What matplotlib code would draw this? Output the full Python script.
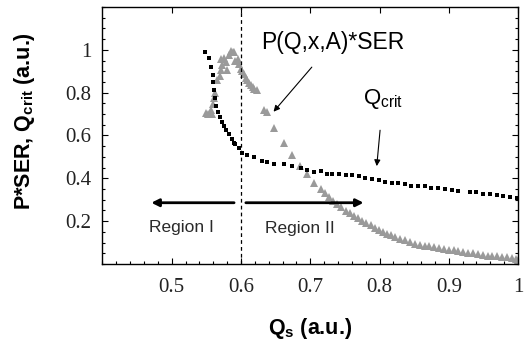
import matplotlib
matplotlib.use("Agg")
import matplotlib.pyplot as plt
from matplotlib.ticker import MultipleLocator, FixedLocator, FuncFormatter

# Qcrit (black squares)
qcrit_x = [0.548, 0.554, 0.556, 0.559, 0.560, 0.561, 0.563, 0.564, 0.567, 0.569,
           0.573, 0.576, 0.579, 0.583, 0.587, 0.590, 0.592, 0.597, 0.602, 0.609,
           0.619, 0.631, 0.638, 0.647, 0.662, 0.674, 0.686, 0.695, 0.705, 0.715,
           0.724, 0.731, 0.741, 0.751, 0.760, 0.770, 0.779, 0.789, 0.799, 0.808,
           0.818, 0.827, 0.837, 0.846, 0.856, 0.866, 0.875, 0.885, 0.895, 0.904,
           0.914, 0.930, 0.940, 0.950, 0.959, 0.969, 0.978, 0.988, 0.998]
qcrit_y = [0.992, 0.961, 0.919, 0.884, 0.850, 0.813, 0.773, 0.739, 0.711, 0.684,
           0.665, 0.642, 0.624, 0.605, 0.582, 0.565, 0.559, 0.540, 0.519, 0.511,
           0.499, 0.483, 0.477, 0.468, 0.465, 0.457, 0.449, 0.437, 0.431, 0.434,
           0.422, 0.419, 0.419, 0.416, 0.414, 0.411, 0.403, 0.396, 0.391, 0.383,
           0.380, 0.377, 0.373, 0.365, 0.365, 0.362, 0.357, 0.357, 0.350, 0.345,
           0.342, 0.337, 0.334, 0.329, 0.327, 0.323, 0.319, 0.314, 0.308]

# P(Q,x,A)*SER (gray triangles)
pser_x = [0.549, 0.553, 0.556, 0.558, 0.560, 0.561, 0.563, 0.566, 0.569, 0.571,
          0.573, 0.571, 0.576, 0.578, 0.580, 0.582, 0.585, 0.588, 0.590, 0.592,
          0.595, 0.597, 0.600, 0.602, 0.604, 0.607, 0.609, 0.612, 0.614, 0.617,
          0.619, 0.623,
          0.633, 0.638, 0.648, 0.662, 0.674, 0.685, 0.695, 0.705, 0.715, 0.721,
          0.727, 0.733, 0.739, 0.745, 0.751, 0.757, 0.763, 0.769, 0.775, 0.781,
          0.787, 0.793, 0.799, 0.805, 0.811, 0.817, 0.823, 0.830, 0.837, 0.844,
          0.851, 0.858, 0.865, 0.872, 0.879, 0.886, 0.893, 0.900, 0.907, 0.914,
          0.921, 0.928, 0.935, 0.942, 0.949, 0.956, 0.963, 0.970, 0.977, 0.984,
          0.991, 0.997, 1.000]
pser_y = [0.705, 0.700, 0.720, 0.700, 0.745, 0.775, 0.800, 0.858, 0.880, 0.904,
          0.930, 0.958, 0.960, 0.942, 0.904, 0.975, 0.996, 0.990, 0.988, 0.950,
          0.955, 0.934, 0.911, 0.900, 0.888, 0.870, 0.858, 0.845, 0.835, 0.825,
          0.819, 0.811,
          0.719, 0.711, 0.637, 0.565, 0.511, 0.457, 0.419, 0.380, 0.349, 0.330,
          0.311, 0.295, 0.280, 0.264, 0.249, 0.237, 0.226, 0.214, 0.203, 0.191,
          0.180, 0.168, 0.157, 0.150, 0.142, 0.134, 0.126, 0.118, 0.111, 0.102,
          0.095, 0.090, 0.086, 0.082, 0.078, 0.075, 0.072, 0.067, 0.064, 0.060,
          0.056, 0.052, 0.049, 0.045, 0.042, 0.039, 0.037, 0.035, 0.034, 0.032,
          0.030, 0.025, 0.018]

x_ticks = [0.5, 0.6, 0.7, 0.8, 0.9, 1.0]
y_ticks = [0.2, 0.4, 0.6, 0.8, 1.0]
boundary = 0.6

fig = plt.figure(figsize=(5.24, 3.45), dpi=100)
ax = fig.add_axes([0.1956, 0.2348, 0.7930, 0.745])

ax.plot(pser_x, pser_y, linestyle='none', marker='^', markersize=6.0,
        color='#9a9a9a', markeredgewidth=0)
ax.plot(qcrit_x, qcrit_y, linestyle='none', marker='s', markersize=2.3,
        color='black', markeredgewidth=0)

ax.axvline(boundary, color='black', linestyle=(0, (3, 2.5)), linewidth=0.9)

ax.set_xlim(0.4, 1.0)
ax.set_ylim(0.0, 1.2)

ax.xaxis.set_major_locator(FixedLocator(x_ticks))
ax.xaxis.set_minor_locator(MultipleLocator(0.02))
ax.yaxis.set_major_locator(FixedLocator(y_ticks))
ax.yaxis.set_minor_locator(MultipleLocator(0.05))
fmt = FuncFormatter(lambda v, p: '%g' % round(v, 2))
ax.xaxis.set_major_formatter(fmt)
ax.yaxis.set_major_formatter(fmt)

ax.tick_params(which='both', direction='in', top=True, right=True,
               width=0.8, color='black')
ax.tick_params(which='major', length=4, labelsize=15)
ax.tick_params(axis='x', which='major', pad=10)
ax.tick_params(axis='y', which='major', pad=8)
ax.tick_params(which='minor', length=2.5)
ax.tick_params(which='minor', top=False)
for lab in ax.get_xticklabels() + ax.get_yticklabels():
    lab.set_family('Liberation Serif')
    lab.set_color('#222222')
for s in ax.spines.values():
    s.set_linewidth(1.0)

ax.set_xlabel(r'Q$_\mathregular{s}$ (a.u.)', fontsize=15.5, fontweight='bold',
              family='Liberation Sans', labelpad=14)
ax.set_ylabel(r'P*SER, Q$_\mathregular{crit}$ (a.u.)', fontsize=15.5,
              fontweight='bold', family='Liberation Sans')
ax.yaxis.set_label_coords(-0.158, 0.556)

ax.annotate('P(Q,x,A)*SER', xy=(0.647, 0.711), xytext=(0.733, 1.035),
            ha='center', va='center', fontsize=16.5, family='Liberation Sans',
            arrowprops=dict(arrowstyle='-|>', color='black', lw=0.8,
                            mutation_scale=9, shrinkA=10, shrinkB=0))
ax.annotate(r'Q$_\mathregular{crit}$', xy=(0.796, 0.457), xytext=(0.805, 0.771),
            ha='center', va='center', fontsize=16, family='Liberation Sans',
            arrowprops=dict(arrowstyle='-|>', color='black', lw=0.8,
                            mutation_scale=9, shrinkA=12, shrinkB=0))

ax.annotate('', xy=(0.4705, 0.286), xytext=(0.590, 0.286),
            arrowprops=dict(arrowstyle='-|>', color='black', lw=2,
                            mutation_scale=11, shrinkA=0, shrinkB=0))
ax.annotate('', xy=(0.777, 0.286), xytext=(0.607, 0.286),
            arrowprops=dict(arrowstyle='-|>', color='black', lw=2,
                            mutation_scale=11, shrinkA=0, shrinkB=0))
ax.text(0.514, 0.171, 'Region I', ha='center', va='center', fontsize=12.5,
        family='Liberation Sans', color='#2a2a2a')
ax.text(0.685, 0.168, 'Region II', ha='center', va='center', fontsize=12.5,
        family='Liberation Sans', color='#2a2a2a')

fig.savefig('out.png', dpi=100)
